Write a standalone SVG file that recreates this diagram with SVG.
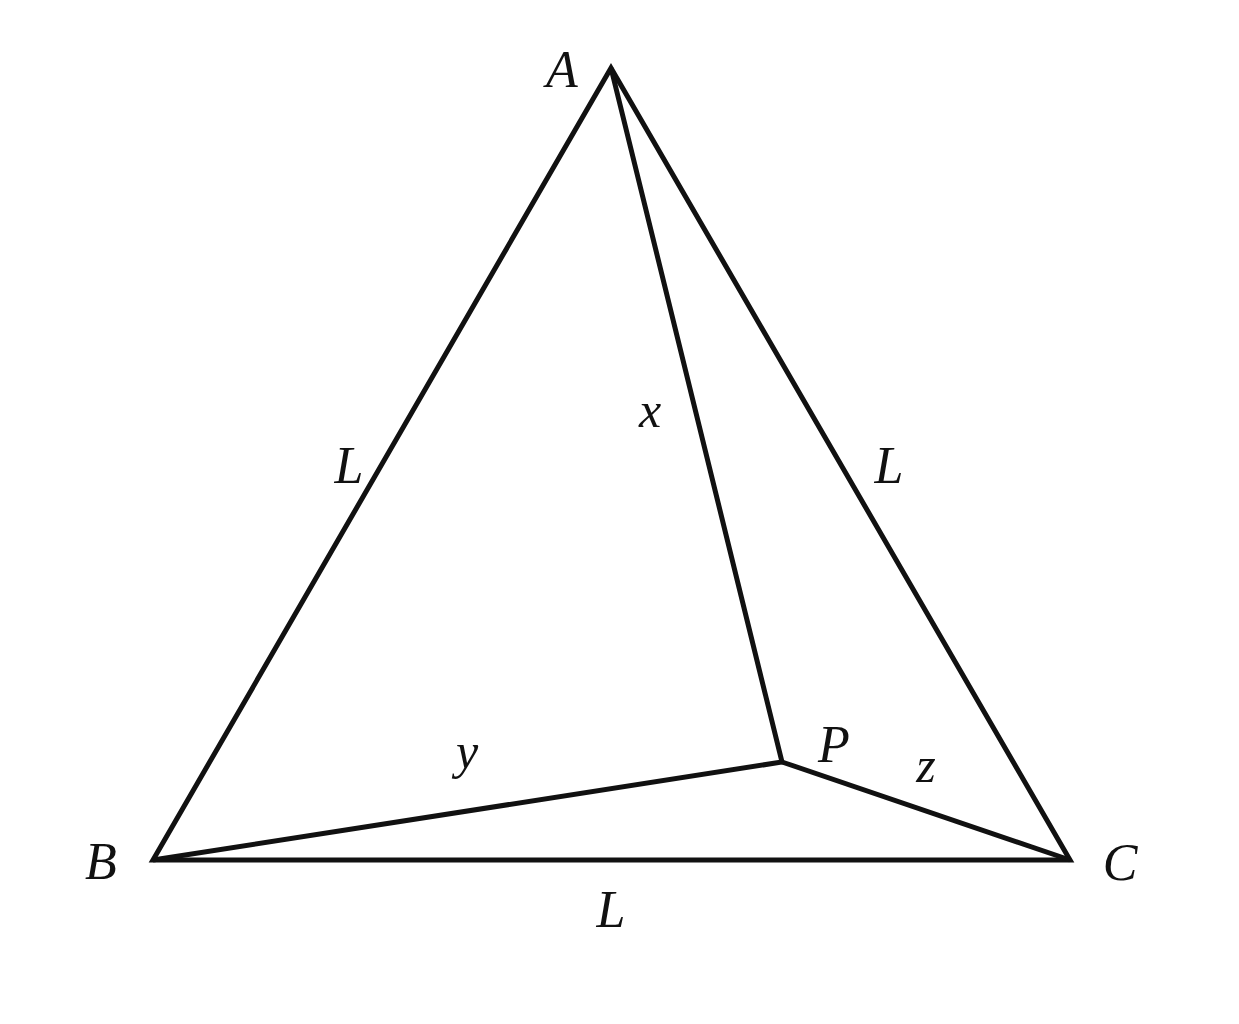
<svg xmlns="http://www.w3.org/2000/svg" width="1239" height="1024" viewBox="0 0 1239 1024">
<style>
.e{fill:none;stroke:#111;stroke-width:5;stroke-linejoin:miter;stroke-miterlimit:20;stroke-linecap:butt}
.t{font-family:"Liberation Serif","DejaVu Serif",serif;font-style:italic;font-size:52px;fill:#111;text-anchor:middle}
.s{font-size:50px}
</style>
<rect width="1239" height="1024" fill="#fff"/>
<g id="connectors">
<path class="e" d="M611,68 L153,860 L1070,860 Z"/>
<path class="e" d="M611,68 L782,762 L153,860"/>
<path class="e" d="M782,762 L1070,860"/>
</g>
<g id="node-A"><text class="t" x="562" y="87">A</text></g>
<g id="node-B"><text class="t" x="101" y="879">B</text></g>
<g id="node-C"><text class="t" x="1120" y="880">C</text></g>
<g id="node-P"><text class="t" x="834" y="762">P</text></g>
<g id="label-x"><text class="t s" x="650" y="427">x</text></g>
<g id="label-y"><text class="t s" x="467" y="768">y</text></g>
<g id="label-z"><text class="t s" x="926" y="782">z</text></g>
<g id="label-L1"><text class="t" x="349" y="483">L</text></g>
<g id="label-L2"><text class="t" x="889" y="483">L</text></g>
<g id="label-L3"><text class="t" x="611" y="927">L</text></g>
</svg>
